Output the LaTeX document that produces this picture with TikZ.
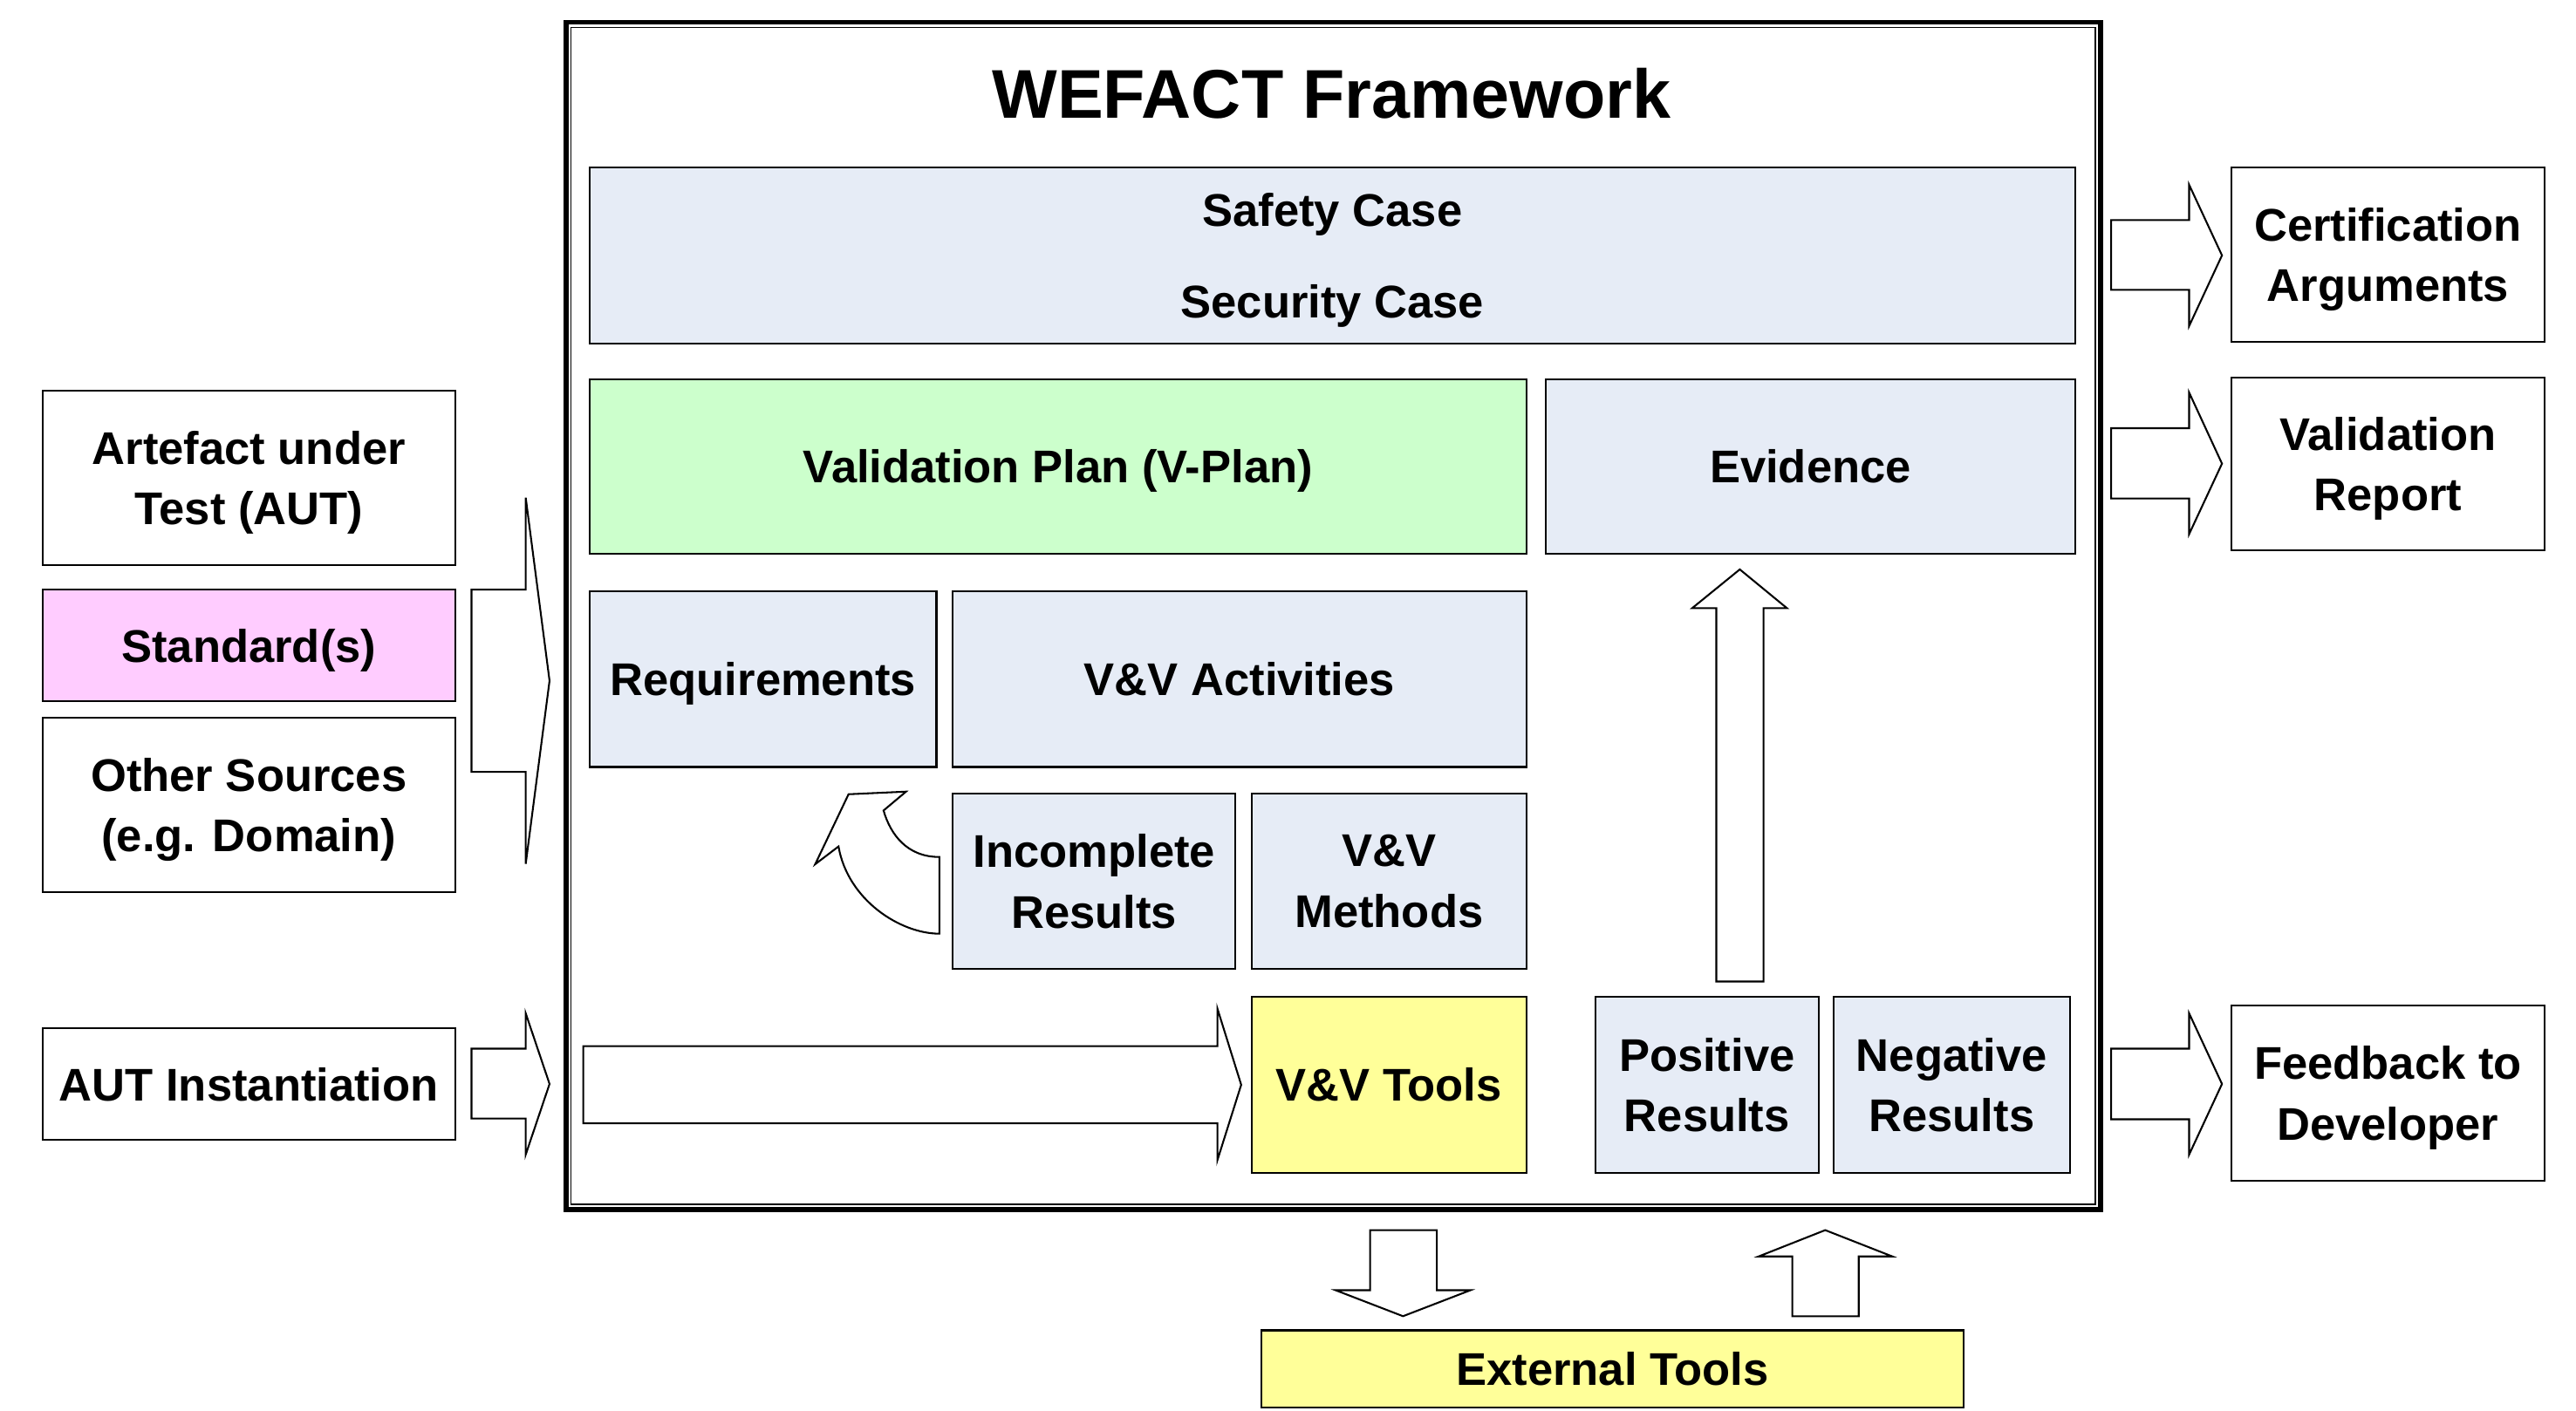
\documentclass[tikz,border=0pt]{standalone}
\usepackage{fontspec}
\setmainfont{Liberation Sans}
\definecolor{caseblue}{RGB}{230,236,246}
\definecolor{plangreen}{RGB}{204,255,204}
\definecolor{stdpink}{RGB}{255,204,255}
\definecolor{toolyellow}{RGB}{255,255,153}

\begin{document}
\begin{tikzpicture}[x=1pt,y=-1pt,
        box/.style={draw, line width=1.1pt, align=center, inner sep=0pt, text depth=0pt,
            font=\fontsize{27.9}{37}\selectfont\bfseries},
        barrow/.style={draw, line width=1.1pt, fill=white, line join=miter}]
        \useasboundingbox (0,0) rectangle (1568,859);

        \node[draw, line width=3pt, minimum width=934pt, minimum height=723pt] (frame) at (811.5,375) {};
        \node[draw, line width=0.8pt, minimum width=927.7pt, minimum height=716.7pt] (framein) at (811.5,375) {};
        \node[font=\fontsize{42}{50}\selectfont\bfseries] (title) at (810.5,57) {WEFACT Framework};

        \node[box, fill=caseblue, minimum width=904pt, minimum height=107pt] (cases) at (811,155.5) {Safety Case\\[19pt]Security Case};
        \node[box, fill=plangreen, minimum width=570pt, minimum height=106pt] (vplan) at (644,284) {Validation Plan (V-Plan)};
        \node[box, fill=caseblue, minimum width=322pt, minimum height=106pt] (evidence) at (1102,284) {Evidence};
        \node[box, fill=caseblue, minimum width=211pt, minimum height=107pt] (req) at (464.5,413.5) {Requirements};
        \node[box, fill=caseblue, minimum width=349pt, minimum height=107pt] (vvact) at (754.5,413.5) {V\&V Activities};
        \node[box, fill=caseblue, minimum width=172pt, minimum height=107pt] (incomplete) at (666,536.5) {Incomplete\\Results};
        \node[box, fill=caseblue, minimum width=167pt, minimum height=107pt] (vvmeth) at (845.5,536.5) {V\&V\\Methods};
        \node[box, fill=toolyellow, minimum width=167pt, minimum height=107pt] (vvtools) at (845.5,660.5) {V\&V Tools};
        \node[box, fill=caseblue, minimum width=136pt, minimum height=107pt] (posres) at (1039,660.5) {Positive\\Results};
        \node[box, fill=caseblue, minimum width=144pt, minimum height=107pt] (negres) at (1188,660.5) {Negative\\Results};

        \node[box, fill=white, minimum width=251pt, minimum height=106pt] (aut) at (151.5,291) {Artefact under\\Test (AUT)};
        \node[box, fill=stdpink, minimum width=251pt, minimum height=68pt] (std) at (151.5,393) {Standard(s)};
        \node[box, fill=white, minimum width=251pt, minimum height=106pt] (other) at (151.5,490) {Other Sources\\(e.g. Domain)};
        \node[box, fill=white, minimum width=251pt, minimum height=68pt] (autinst) at (151.5,660) {AUT Instantiation};

        \node[box, fill=white, minimum width=191pt, minimum height=106pt] (cert) at (1453.5,155) {Certification\\Arguments};
        \node[box, fill=white, minimum width=191pt, minimum height=105pt] (vreport) at (1453.5,282.5) {Validation\\Report};
        \node[box, fill=white, minimum width=191pt, minimum height=107pt] (feedback) at (1453.5,665.5) {Feedback to\\Developer};
        \node[box, fill=toolyellow, minimum width=427pt, minimum height=47pt] (exttools) at (981.5,833.5) {External Tools};

        \draw[barrow] (287,359) -- (320,359) -- (320,303) -- (334.5,414.5) -- (320,526) -- (320,470) -- (287,470) -- cycle;
        \draw[barrow] (287,638.5) -- (320,638.5) -- (320,617) -- (334.5,660) -- (320,703) -- (320,681) -- (287,681) -- cycle;
        \draw[barrow] (355,637) -- (741,637) -- (741,614) -- (755.5,660.5) -- (741,706.5) -- (741,684) -- (355,684) -- cycle;

        \draw[barrow] (1285,134) -- (1332.5,134) -- (1332.5,112.5) -- (1352.5,155.5) -- (1332.5,198.5) -- (1332.5,176.5) -- (1285,176.5) -- cycle;
        \draw[barrow] (1285,260.7) -- (1332.5,260.7) -- (1332.5,239) -- (1352.5,282.3) -- (1332.5,325.2) -- (1332.5,303.5) -- (1285,303.5) -- cycle;
        \draw[barrow] (1285,638.5) -- (1332.5,638.5) -- (1332.5,617) -- (1352.5,660) -- (1332.5,703) -- (1332.5,681.5) -- (1285,681.5) -- cycle;

        \draw[barrow] (1044.7,597.6) -- (1044.7,370.3) -- (1030,370.3) -- (1059,346.7) -- (1087.7,370.3) -- (1073.4,370.3) -- (1073.4,597.6) -- cycle;
        \draw[barrow] (834,749) -- (874.6,749) -- (874.6,785.6) -- (895,785.6) -- (854,801.4) -- (813,785.6) -- (834,785.6) -- cycle;
        \draw[barrow] (1091,801.4) -- (1091,765) -- (1070.5,765) -- (1111,749) -- (1151.8,765) -- (1131.4,765) -- (1131.4,801.4) -- cycle;

        \draw[barrow] (571.8,568.5) .. controls (548,568.5) and (516,548) .. (510.4,515.4)
            -- (496.2,526.2) -- (516.5,483.6) -- (551.5,482) -- (537.8,493.5)
            .. controls (542,508) and (552,521.8) .. (571.8,521.8) -- cycle;
\end{tikzpicture}
\end{document}
